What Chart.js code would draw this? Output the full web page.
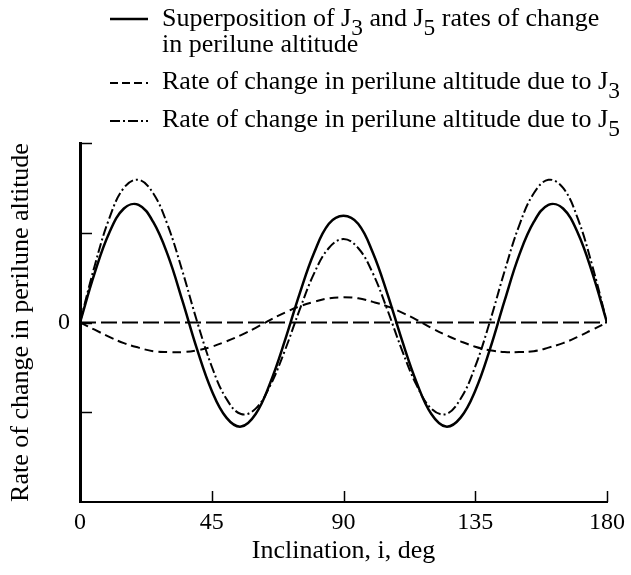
<!DOCTYPE html>
<html>
<head>
<meta charset="utf-8">
<script src="https://cdn.jsdelivr.net/npm/chart.js@4.4.1/dist/chart.umd.min.js"></script>
<style>
  html,body{margin:0;padding:0;background:#fff;}
  #wrap{position:relative;width:631px;height:575px;font-family:'Liberation Serif','Times New Roman',serif;color:#000;}
  #wrap canvas{position:absolute;left:0;top:0;}
  .lg{position:absolute;left:162px;font-size:26px;line-height:26px;white-space:nowrap;}
  .lg sub{font-size:0.9em;vertical-align:-0.4em;line-height:0;}
  #samples{position:absolute;left:0;top:0;}
</style>
</head>
<body>
<div id="wrap">
  <canvas id="chart" width="631" height="575"></canvas>
  <svg id="samples" width="200" height="150">
    <line x1="110" y1="19" x2="148" y2="19" stroke="#000" stroke-width="2.5"/>
    <line x1="110" y1="83" x2="148" y2="83" stroke="#000" stroke-width="2" stroke-dasharray="8 4"/>
    <line x1="110" y1="121" x2="148" y2="121" stroke="#000" stroke-width="2" stroke-dasharray="10 3 2 3"/>
  </svg>
  <div class="lg" style="top:5px">Superposition of J<sub>3</sub> and J<sub>5</sub> rates of change</div>
  <div class="lg" style="top:31px">in perilune altitude</div>
  <div class="lg" style="top:68px">Rate of change in perilune altitude due to J<sub>3</sub></div>
  <div class="lg" style="top:106px">Rate of change in perilune altitude due to J<sub>5</sub></div>
</div>
<script>
// ===================== DATA =====================
const inclination=[0,5,10,15,20,25,30,35,40,45,50,55,60,65,70,75,80,85,90,
  95,100,105,110,115,120,125,130,135,140,145,150,155,160,165,170,175,180];
const superposition=[0,0.55,1.00,1.27,1.31,1.12,0.75,0.24,-0.30,-0.76,-1.06,-1.16,-1.02,-0.67,-0.20,0.32,0.78,1.10,1.19,
  1.10,0.78,0.32,-0.20,-0.67,-1.02,-1.16,-1.06,-0.76,-0.30,0.24,0.75,1.12,1.31,1.27,1.00,0.55,0];
const dueJ3=[0,-0.08,-0.16,-0.23,-0.28,-0.32,-0.33,-0.33,-0.31,-0.27,-0.21,-0.14,-0.06,0.03,0.11,0.18,0.23,0.27,0.28,
  0.27,0.23,0.18,0.11,0.03,-0.06,-0.14,-0.21,-0.27,-0.31,-0.33,-0.33,-0.32,-0.28,-0.23,-0.16,-0.08,0];
const dueJ5=[0,0.63,1.16,1.50,1.59,1.44,1.08,0.57,0.01,-0.49,-0.85,-1.02,-0.96,-0.70,-0.31,0.14,0.55,0.83,0.93,
  0.83,0.55,0.14,-0.31,-0.70,-0.96,-1.02,-0.85,-0.49,0.01,0.57,1.08,1.44,1.59,1.50,1.16,0.63,0];
const zeroLineX=[0,180];
const zeroLineY=[0,0];
const xTicks=[0,45,90,135,180];
const yTicks=[-1,0,1,2];

const FONT="'Liberation Serif','Times New Roman',serif";
const pts=(xs,ys)=>xs.map((x,i)=>({x,y:ys[i]}));

// ticks pointing into the plot, like the original drawing
const innerTicks={
  id:'innerTicks',
  afterDraw(chart){
    const {ctx,chartArea:ca,scales:{x,y}}=chart;
    ctx.save();
    ctx.strokeStyle='#000';ctx.lineWidth=1.5;
    yTicks.forEach(v=>{
      const py=Math.round(y.getPixelForValue(v))+0.5;
      ctx.beginPath();ctx.moveTo(ca.left-1,py);ctx.lineTo(ca.left+12,py);ctx.stroke();
    });
    xTicks.slice(1).forEach(v=>{
      const px=Math.round(x.getPixelForValue(v))+0.5;
      ctx.beginPath();ctx.moveTo(px,ca.bottom);ctx.lineTo(px,ca.bottom-11);ctx.stroke();
    });
    ctx.restore();
  }
};

new Chart(document.getElementById('chart'),{
  type:'line',
  data:{datasets:[
    {label:'Superposition of J3 and J5 rates of change in perilune altitude',data:pts(inclination,superposition),
      borderColor:'#000',borderWidth:2.5,pointRadius:0,tension:0.4,fill:false},
    {label:'Rate of change in perilune altitude due to J3',data:pts(inclination,dueJ3),
      borderColor:'#000',borderWidth:2,borderDash:[9,5],pointRadius:0,tension:0.4,fill:false},
    {label:'Rate of change in perilune altitude due to J5',data:pts(inclination,dueJ5),
      borderColor:'#000',borderWidth:2,borderDash:[10,3,2,3],pointRadius:0,tension:0.4,fill:false},
    {label:'zero',data:pts(zeroLineX,zeroLineY),
      borderColor:'#000',borderWidth:2,borderDash:[16,5],pointRadius:0,fill:false}
  ]},
  options:{
    responsive:false,animation:false,
    layout:{padding:{top:143,right:21,bottom:0,left:0}},
    plugins:{legend:{display:false},tooltip:{enabled:false}},
    scales:{
      x:{type:'linear',min:0,max:180,
        afterBuildTicks:s=>{s.ticks=xTicks.map(v=>({value:v}));},
        afterFit:s=>{s.height=73;},
        grid:{display:false,drawTicks:false},
        border:{display:true,color:'#000',width:2},
        ticks:{color:'#000',padding:6,maxRotation:0,font:{family:FONT,size:24}},
        title:{display:true,text:'Inclination, i, deg',color:'#000',padding:{top:0,bottom:8},font:{family:FONT,size:26}}
      },
      y:{type:'linear',min:-2,max:2,
        afterBuildTicks:s=>{s.ticks=yTicks.map(v=>({value:v}));},
        afterFit:s=>{s.width=80;},
        grid:{display:false,drawTicks:false},
        border:{display:true,color:'#000',width:3},
        ticks:{color:'#000',padding:10,font:{family:FONT,size:24},callback:v=>v===0?'0':''},
        title:{display:true,text:'Rate of change in perilune altitude',color:'#000',padding:{top:6,bottom:0},font:{family:FONT,size:26}}
      }
    }
  },
  plugins:[innerTicks]
});
</script>
</body>
</html>
